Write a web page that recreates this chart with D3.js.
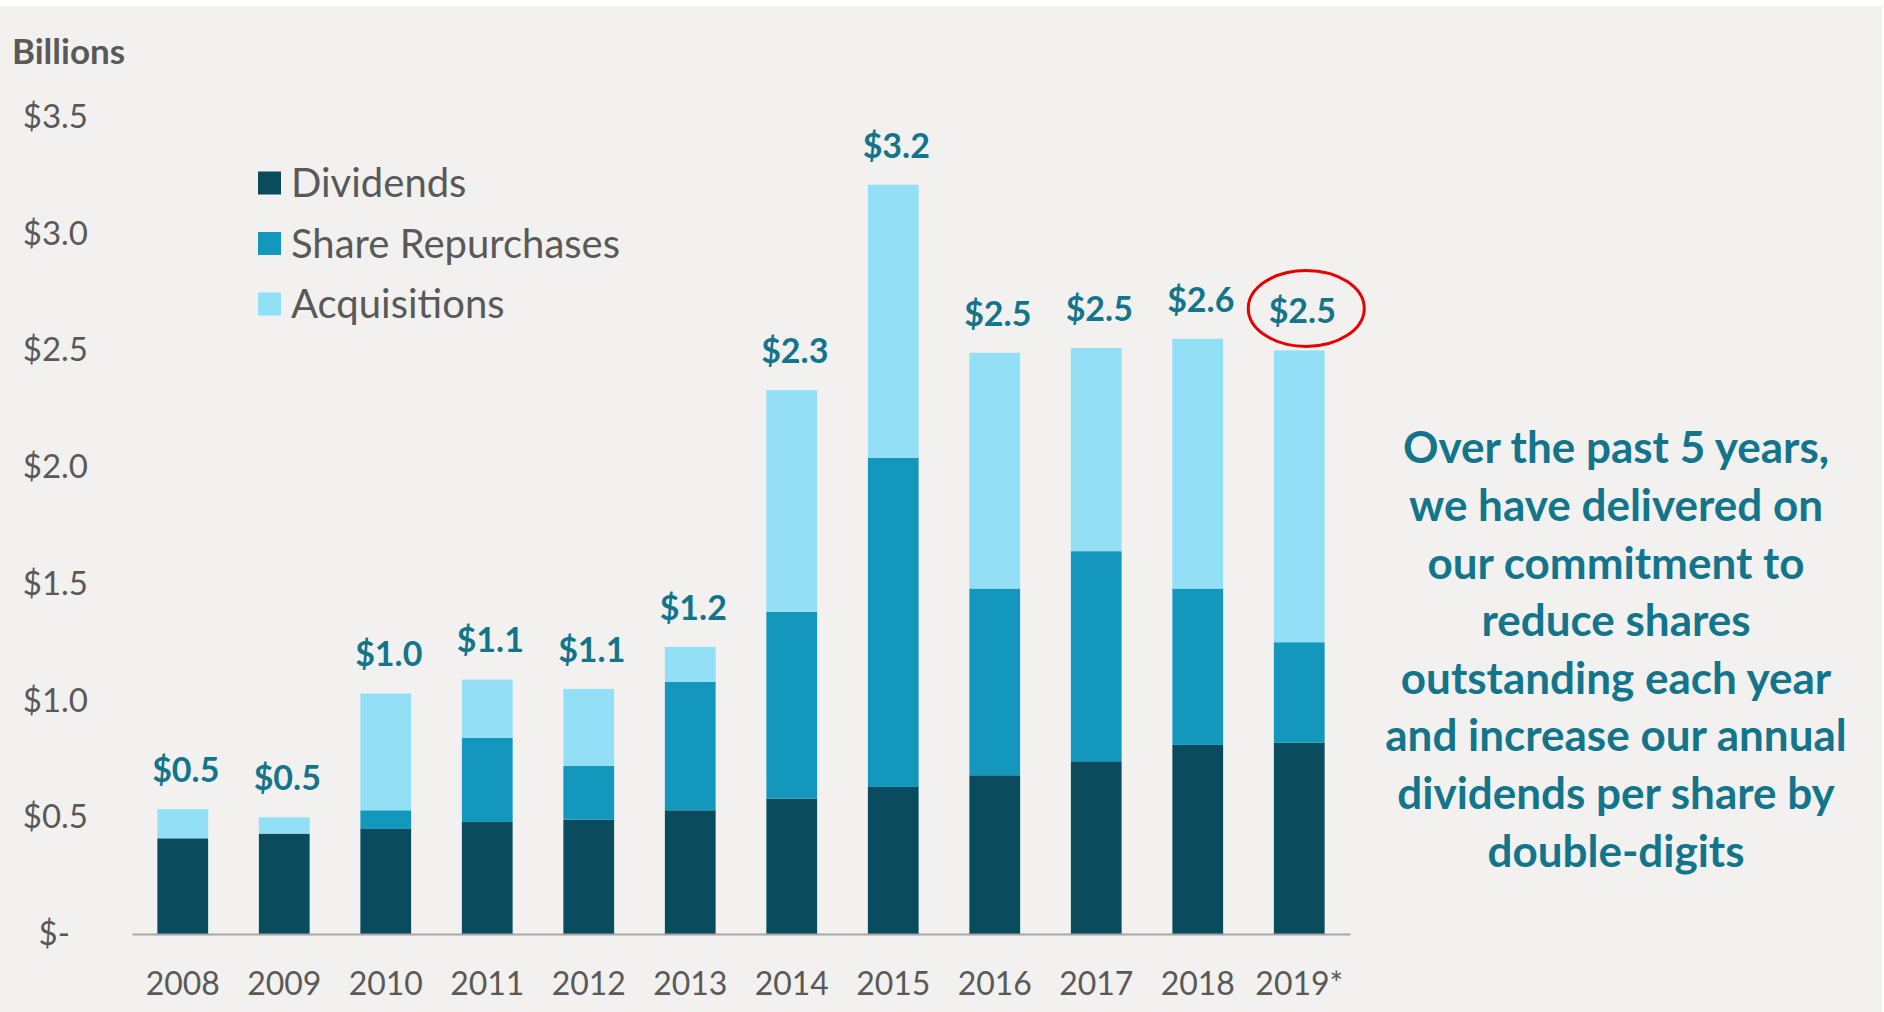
<!DOCTYPE html>
<html>
<head>
<meta charset="UTF-8">
<title>Capital deployment</title>
<style>
  body { margin: 0; background: #ffffff; }
  svg { display: block; font-family: Lato, "Open Sans", sans-serif; }
</style>
</head>
<body>
<div id="chart"></div>
<script src="https://d3js.org/d3.v7.min.js"></script>
<script>
// values in $ billions
var years = ["2008", "2009", "2010", "2011", "2012", "2013", "2014", "2015", "2016", "2017", "2018", "2019*"];
var dividends    = [0.41, 0.43, 0.45, 0.48, 0.49, 0.53, 0.58, 0.63, 0.68, 0.74, 0.81, 0.82];
var repurchases  = [0.00, 0.00, 0.08, 0.36, 0.23, 0.55, 0.80, 1.41, 0.80, 0.90, 0.67, 0.43];
var acquisitions = [0.125, 0.07, 0.50, 0.25, 0.33, 0.15, 0.95, 1.17, 1.01, 0.87, 1.07, 1.25];
var totalLabels  = ["$0.5", "$0.5", "$1.0", "$1.1", "$1.1", "$1.2", "$2.3", "$3.2", "$2.5", "$2.5", "$2.6", "$2.5"];
var yTicks = [0, 0.5, 1.0, 1.5, 2.0, 2.5, 3.0, 3.5];
var seriesNames = ["Dividends", "Share Repurchases", "Acquisitions"];
var colors = ["#0a4c5e", "#1497bd", "#93dff5"];
var highlightYear = "2019*";
var noteLines = [
  "Over the past 5 years,",
  "we have delivered on",
  "our commitment to",
  "reduce shares",
  "outstanding each year",
  "and increase our annual",
  "dividends per share by",
  "double-digits"
];

var width = 1884, height = 1012;
var grey = "#595959", teal = "#13758c";

var svg = d3.select("#chart").append("svg")
  .attr("width", width)
  .attr("height", height);

// page background (thin white strip on top like the slide)
svg.append("rect")
  .attr("x", 0).attr("y", 6)
  .attr("width", width - 2).attr("height", height - 6)
  .attr("fill", "#f2f1ef");

var rows = years.map(function(y, i) {
  return { year: y, Dividends: dividends[i], "Share Repurchases": repurchases[i], Acquisitions: acquisitions[i], label: totalLabels[i] };
});
var stacked = d3.stack().keys(seriesNames)(rows);

var x = d3.scaleBand()
  .domain(years)
  .range([132, 1350])
  .paddingInner(0.5)
  .paddingOuter(0.25);

var y = d3.scaleLinear()
  .domain([0, 3.5])
  .range([934, 117]);

// bars
svg.selectAll(".layer")
  .data(stacked)
  .enter().append("g")
  .attr("class", "layer")
  .attr("fill", function(d, i) { return colors[i]; })
  .selectAll("rect")
  .data(function(d) { return d; })
  .enter().append("rect")
  .attr("x", function(d) { return x(d.data.year); })
  .attr("y", function(d) { return y(d[1]); })
  .attr("width", x.bandwidth())
  .attr("height", function(d) { return y(d[0]) - y(d[1]); });

// x axis
var xAxis = d3.axisBottom(x).tickSize(0).tickPadding(38);
var gx = svg.append("g")
  .attr("transform", "translate(0," + y(0) + ")")
  .call(xAxis);
gx.select(".domain").attr("stroke", "#a6a6a6").attr("stroke-width", 2);
gx.selectAll("text")
  .attr("fill", grey)
  .attr("font-size", 32)
  .attr("font-family", "Lato, sans-serif");

// y axis (labels only)
var yAxis = d3.axisLeft(y)
  .tickValues(yTicks)
  .tickSize(0)
  .tickPadding(0)
  .tickFormat(function(d) { return d === 0 ? "$-" : "$" + d3.format(".1f")(d); });
var gy = svg.append("g")
  .attr("transform", "translate(88,0)")
  .call(yAxis);
gy.select(".domain").remove();
gy.selectAll("text")
  .attr("fill", grey)
  .attr("font-size", 33)
  .attr("font-family", "Lato, sans-serif")
  .attr("dx", function(d) { return d === 0 ? -18 : 0; });

svg.append("text")
  .attr("x", 12).attr("y", 52)
  .attr("dy", "0.35em")
  .attr("fill", grey)
  .attr("font-size", 35)
  .attr("font-weight", "bold")
  .text("Billions");

// total labels
var totals = rows.map(function(r) { return r.Dividends + r["Share Repurchases"] + r.Acquisitions; });
svg.selectAll(".total")
  .data(rows)
  .enter().append("text")
  .attr("class", "total")
  .attr("x", function(d) { return x(d.year) + x.bandwidth() / 2 + 3; })
  .attr("y", function(d, i) { return y(totals[i]) - 39; })
  .attr("dy", "0.35em")
  .attr("text-anchor", "middle")
  .attr("fill", teal)
  .attr("font-size", 34)
  .attr("font-weight", "bold")
  .text(function(d) { return d.label; });

// highlight ellipse round the last total
var hi = years.indexOf(highlightYear);
svg.append("ellipse")
  .attr("cx", x(highlightYear) + x.bandwidth() / 2 + 7)
  .attr("cy", y(totals[hi]) - 42)
  .attr("rx", 58)
  .attr("ry", 38)
  .attr("fill", "none")
  .attr("stroke", "#e60000")
  .attr("stroke-width", 3);

// legend
var legend = svg.selectAll(".legend")
  .data(seriesNames)
  .enter().append("g")
  .attr("class", "legend")
  .attr("transform", function(d, i) { return "translate(258," + (183 + i * 60.5) + ")"; });
legend.append("rect")
  .attr("x", 0).attr("y", -11.5)
  .attr("width", 23).attr("height", 23)
  .attr("fill", function(d, i) { return colors[i]; });
legend.append("text")
  .attr("x", 33).attr("y", 0)
  .attr("dy", "0.35em")
  .attr("fill", grey)
  .attr("font-size", 40)
  .text(function(d) { return d; });

// note on the right
svg.append("g").selectAll("text")
  .data(noteLines)
  .enter().append("text")
  .attr("x", 1616)
  .attr("y", function(d, i) { return 448 + i * 57.6; })
  .attr("dy", "0.35em")
  .attr("text-anchor", "middle")
  .attr("fill", teal)
  .attr("font-size", 44)
  .attr("font-weight", "bold")
  .text(function(d) { return d; });
</script>
</body>
</html>
